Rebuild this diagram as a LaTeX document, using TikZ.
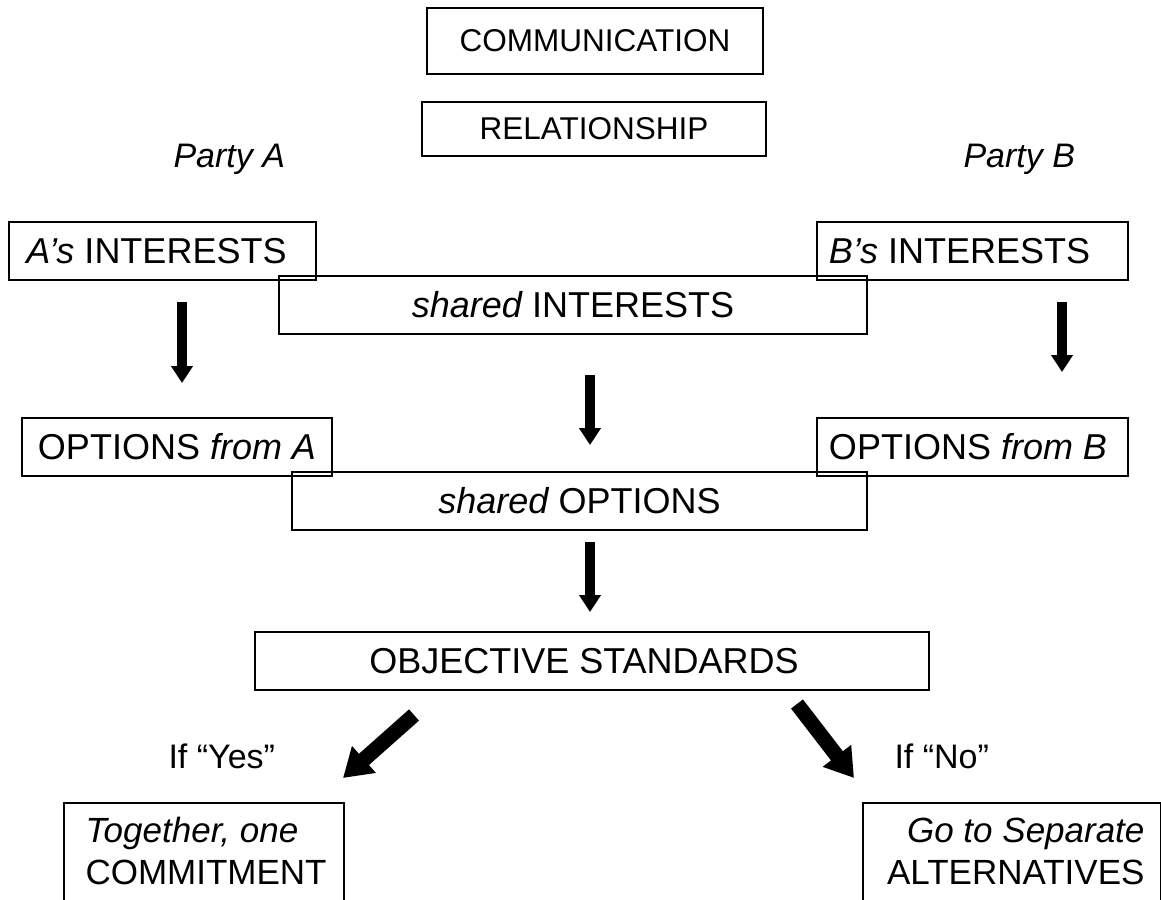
\documentclass[tikz,border=0pt]{standalone}
\usepackage{fontspec}
\setmainfont{Liberation Sans}
\usetikzlibrary{arrows.meta}
\begin{document}
\begin{tikzpicture}[x=1pt,y=-1pt,
  box/.style={draw, line width=1.5pt, inner sep=0pt},
  bigtxt/.style={font=\fontsize{36}{42}\selectfont},
  outtxt/.style={font=\fontsize{35}{40}\selectfont},
  midtxt/.style={font=\fontsize{34}{40}\selectfont},
  smalltxt/.style={font=\fontsize{31.5}{36}\selectfont},
  fat/.style={line width=10.5pt, -{Triangle[width=21pt,length=17pt]}},
  diag/.style={line width=15pt, -{Triangle[width=34pt,length=28pt]}}]
\useasboundingbox (0,0) rectangle (1161,899);
\clip (0,0) rectangle (1161,899);
% top boxes
\node[box, smalltxt, minimum width=336pt, minimum height=66pt] (comm) at (595,41) {COMMUNICATION};
\node[box, smalltxt, minimum width=344pt, minimum height=54pt] (rel) at (594,129) {RELATIONSHIP};
\node[midtxt, anchor=base west] (pa) at (170,167) {\itshape Party A};
\node[midtxt, anchor=base west] (pb) at (960,167) {\itshape Party B};
% interests
\node[box, bigtxt, minimum width=307pt, minimum height=58pt] (aint) at (162.5,251) {\hspace*{-12pt}\itshape A’s\upshape{} INTERESTS};
\node[box, bigtxt, minimum width=311pt, minimum height=58pt] (bint) at (972.5,251) {\hspace*{-26pt}\itshape B’s\upshape{} INTERESTS};
\node[box, bigtxt, minimum width=588pt, minimum height=58pt] (sint) at (573,305) {\itshape shared\upshape{} INTERESTS};
% options
\node[box, bigtxt, minimum width=310pt, minimum height=58pt] (opta) at (177,447) {OPTIONS \itshape from A};
\node[box, bigtxt, minimum width=311pt, minimum height=58pt] (optb) at (972.5,447) {\hspace*{-9pt}OPTIONS \itshape from B};
\node[box, bigtxt, minimum width=575pt, minimum height=58pt] (sopt) at (579.5,501) {\itshape shared\upshape{} OPTIONS};
% standards
\node[box, bigtxt, minimum width=674pt, minimum height=58pt] (obj) at (592,661) {\hspace*{-16pt}OBJECTIVE STANDARDS};
% outcomes
\node[box, minimum width=280pt, minimum height=120pt, anchor=north west] (commit) at (63,802) {};
\node[box, minimum width=298pt, minimum height=120pt, anchor=north west] (alt) at (862,802) {};
\node[outtxt, anchor=base west] (c1) at (82,842) {\itshape Together, one};
\node[outtxt, anchor=base west] (c2) at (82,884) {COMMITMENT};
\node[outtxt, anchor=base east] (a1) at (1148,842) {\itshape Go to Separate};
\node[outtxt, anchor=base east] (a2) at (1148,884) {ALTERNATIVES};
\node[midtxt, anchor=base west] (yes) at (165,768) {If “Yes”};
\node[midtxt, anchor=base west] (no) at (891,768) {If “No”};
% arrow coordinates
\coordinate (l1) at (182,302); \coordinate (l2) at (182,383);
\coordinate (r1) at (1062,302); \coordinate (r2) at (1062,372);
\coordinate (m1) at (590,375); \coordinate (m2) at (590,445);
\coordinate (n1) at (590,542); \coordinate (n2) at (590,612);
\coordinate (y1) at (414,715); \coordinate (y2) at (343,778);
\coordinate (z1) at (797,704); \coordinate (z2) at (854,778);
\draw[fat] (l1) -- (l2);
\draw[fat] (r1) -- (r2);
\draw[fat] (m1) -- (m2);
\draw[fat] (n1) -- (n2);
\draw[diag] (y1) -- (y2);
\draw[diag] (z1) -- (z2);
\end{tikzpicture}
\end{document}
